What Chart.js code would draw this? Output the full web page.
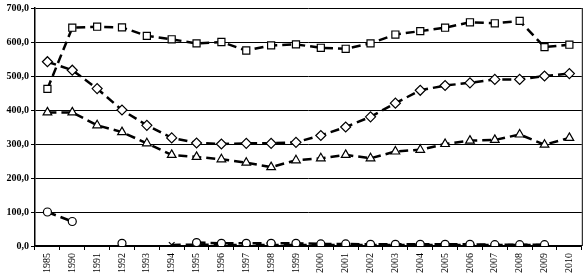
<!DOCTYPE html>
<html>
<head>
<meta charset="utf-8">
<script src="https://cdn.jsdelivr.net/npm/chart.js@4/dist/chart.umd.min.js"></script>
<style>
  html, body { margin: 0; padding: 0; background: #fff; }
  #wrap { width: 588px; height: 279px; }
</style>
</head>
<body>
<div id="wrap"><canvas id="chart"></canvas></div>
<script>
// years on the category axis
const years = ["1985", "1990", "1991", "1992", "1993", "1994", "1995", "1996", "1997", "1998", "1999",
               "2000", "2001", "2002", "2003", "2004", "2005", "2006", "2007", "2008", "2009", "2010"];

// series
const squares  = [462, 642, 645, 643, 618, 608, 596, 600, 575, 590, 593, 583, 580, 596, 622, 632, 642, 658, 655, 662, 585, 592];
const diamonds = [542, 517, 463, 400, 355, 318, 303, 300, 302, 302, 305, 325, 350, 380, 420, 458, 472, 480, 490, 490, 500, 507];
const triangles = [393, 393, 355, 335, 302, 268, 262, 255, 245, 232, 252, 258, 268, 258, 278, 283, 300, 310, 312, 328, 298, 318];
const circles  = [100, 72, null, 8, null, null, 10, 8, 8, 8, 8, 6, 6, 5, 5, 5, 5, 5, 4, 4, 4, null];
const crosses  = [null, null, null, 6, null, 3, 4, 3, 3, 3, 3, 3, 3, 3, 3, 3, 3, 3, 3, 3, 3, null];

const yTicks = [0, 100, 200, 300, 400, 500, 600, 700];

function fmt(v) {
    return v.toFixed(1).replace(".", ",");
}

function line(data, style, radius) {
    return {
        data: data,
        borderColor: "#000",
        borderWidth: 2.5,
        borderDash: [9, 5],
        pointStyle: style,
        pointRadius: radius,
        pointBorderWidth: 1.2,
        pointBackgroundColor: "#fff",
        pointBorderColor: "#000",
        tension: 0
    };
}

// right border of the plot
const frame = {
    id: "frame",
    afterDraw(chart) {
        const a = chart.chartArea, ctx = chart.ctx;
        ctx.save();
        ctx.strokeStyle = "#000";
        ctx.lineWidth = 1;
        ctx.beginPath();
        ctx.moveTo(a.right + 0.5, a.top);
        ctx.lineTo(a.right + 0.5, a.bottom);
        ctx.stroke();
        ctx.restore();
    }
};

new Chart(document.getElementById("chart"), {
    type: "line",
    data: {
        labels: years,
        datasets: [
            line(squares, "rect", 5),
            line(diamonds, "rectRot", 5),
            line(triangles, "triangle", 5),
            line(circles, "circle", 4),
            line(crosses, "crossRot", 4)
        ]
    },
    options: {
        responsive: true,
        maintainAspectRatio: false,
        animation: false,
        layout: { padding: { top: 5, right: 3, left: 0, bottom: 0 } },
        plugins: { legend: { display: false }, tooltip: { enabled: false } },
        scales: {
            x: {
                offset: true,
                grid: { display: true, drawOnChartArea: false, color: "#000", tickLength: 4, offset: true },
                border: { color: "#000", width: 1.5 },
                ticks: {
                    color: "#000",
                    maxRotation: 90,
                    minRotation: 90,
                    autoSkip: false,
                    font: { family: "Liberation Serif", size: 10 }
                },
                afterFit(axis) { axis.height = 33; }
            },
            y: {
                min: 0,
                max: 700,
                afterBuildTicks(axis) { axis.ticks = yTicks.map(v => ({ value: v })); },
                grid: { color: "#000", lineWidth: 1, tickLength: 4 },
                border: { color: "#000", width: 1.5 },
                ticks: {
                    color: "#000",
                    padding: 2,
                    callback: v => fmt(v),
                    font: { family: "Liberation Serif", size: 10, weight: "bold" }
                },
                afterFit(axis) { axis.width = 35; }
            }
        }
    },
    plugins: [frame]
});
</script>
</body>
</html>
